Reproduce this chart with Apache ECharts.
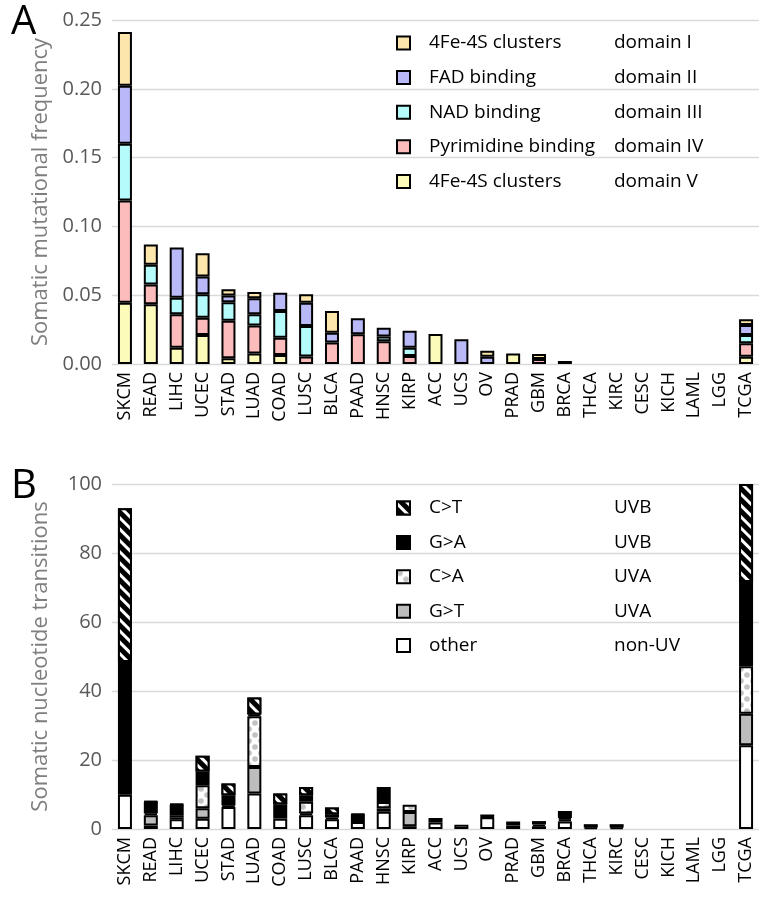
<!DOCTYPE html>
<html>
<head>
<meta charset="utf-8">
<script src="https://cdn.jsdelivr.net/npm/echarts@6/dist/echarts.min.js"></script>
<style>
html,body{margin:0;padding:0;background:#fff;}
#chart{width:768px;height:909px;}
</style>
</head>
<body>
<div id="chart"></div>
<script>
// ---------- data ----------
var categories = ['SKCM','READ','LIHC','UCEC','STAD','LUAD','COAD','LUSC','BLCA','PAAD','HNSC','KIRP','ACC','UCS','OV','PRAD','GBM','BRCA','THCA','KIRC','CESC','KICH','LAML','LGG','TCGA'];

// Panel A: somatic mutational frequency per domain (stack segment sizes)
var domainV   = [0.0446,0.0435,0.0119,0.0211,0.0041,0.0077,0.0065,0,0,0,0,0,0.0218,0,0,0.0077,0,0,0,0,0,0,0,0,0.0053];
var domainIV  = [0.0742,0.0143,0.0242,0.0126,0.0274,0.0202,0.0126,0.0055,0.0157,0.0216,0.0165,0.0058,0,0,0,0,0.0036,0.0022,0,0,0,0,0,0,0.0097];
var domainIII = [0.0412,0.0143,0.0121,0.0170,0.0134,0.0082,0.0194,0.0221,0,0,0.0034,0.0061,0,0,0,0,0,0,0,0,0,0,0,0,0.0061];
var domainII  = [0.0423,0,0.0364,0.0128,0.0048,0.0116,0.0133,0.0170,0.0071,0.0117,0.0065,0.0123,0,0.0180,0.0053,0,0,0,0,0,0,0,0,0,0.0073];
var domainI   = [0.0390,0.0148,0,0.0170,0.0046,0.0046,0,0.0061,0.0157,0,0,0,0,0,0.0044,0,0.0036,0,0,0,0,0,0,0,0.0041];

// Panel B: somatic nucleotide transitions (stack segment sizes)
var other = [9.9,1.0,2.8,3.0,6.4,10.3,3.0,4.0,2.8,2.0,5.0,0.8,1.9,1.2,3.4,1.0,0.8,2.2,0.4,0.4,0,0,0,0,24.3];
var GtoT  = [0,3.0,0.6,3.0,0,7.7,0.8,0.5,0.5,0,1.0,4.1,0,0,0.2,0,0.5,0.5,0,0,0,0,0,0,9.1];
var CtoA  = [0,0.5,0.6,6.7,0.4,14.7,0,3.4,0,0,1.8,2.1,0,0,0,0,0,0.5,0,0,0,0,0,0,13.8];
var GtoA  = [38.5,3.3,3.0,4.0,3.0,0.5,3.4,1.9,1.0,2.1,4.4,0,1.3,0,0.6,1.2,1.0,2.0,1.0,1.0,0,0,0,0,24.4];
var CtoT  = [44.6,0.2,0.2,4.5,3.4,4.9,3.1,2.4,1.9,0.2,0,0,0,0,0,0,0,0,0,0,0,0,0,0,28.4];

var yTicksA = [0, 0.05, 0.10, 0.15, 0.20, 0.25];
var yTicksB = [0, 20, 40, 60, 80, 100];

var legendA = [
  {key:'dI',   label:'4Fe-4S clusters',    group:'domain I'},
  {key:'dII',  label:'FAD binding',        group:'domain II'},
  {key:'dIII', label:'NAD binding',        group:'domain III'},
  {key:'dIV',  label:'Pyrimidine binding', group:'domain IV'},
  {key:'dV',   label:'4Fe-4S clusters',    group:'domain V'}
];
var legendB = [
  {key:'CT', label:'C>T',   group:'UVB'},
  {key:'GA', label:'G>A',   group:'UVB'},
  {key:'CA', label:'C>A',   group:'UVA'},
  {key:'GT', label:'G>T',   group:'UVA'},
  {key:'OT', label:'other', group:'non-UV'}
];

// ---------- chart ----------
var FONT = 'Open Sans';
function clean(arr){ return arr.map(function(v){ return v === 0 ? '-' : v; }); }
var lookup = {};
legendA.concat(legendB).forEach(function(d){ lookup[d.key] = d; });

// dotted fill pattern (C>A)
function makeDots(){
  var c = document.createElement('canvas');
  c.width = 12; c.height = 12;
  var g = c.getContext('2d');
  g.fillStyle = '#ffffff'; g.fillRect(0,0,12,12);
  g.fillStyle = '#c2c2c2';
  [[3,3],[9,9]].forEach(function(p){
    g.beginPath(); g.arc(p[0],p[1],2.8,0,Math.PI*2); g.fill();
  });
  return c;
}
var dotFill = {image:makeDots(), repeat:'repeat'};

var border = {borderColor:'#000', borderWidth:2};
function barA(key, data, color){
  return {name:key, type:'bar', stack:'A', xAxisIndex:0, yAxisIndex:0, barWidth:14,
    data:clean(data), itemStyle:Object.assign({color:color}, border)};
}
function barB(key, data, color, decal){
  var s = Object.assign({color:color}, border);
  if (decal) s.decal = decal;
  return {name:key, type:'bar', stack:'B', xAxisIndex:1, yAxisIndex:1, barWidth:14,
    data:clean(data), itemStyle:s};
}

var stripe = {symbol:'rect', color:'#ffffff', backgroundColor:'#000000',
  dashArrayX:[1,0], dashArrayY:[2.5,5], rotation:Math.PI/4, symbolSize:1};

var legendFormatter = function(name){
  var d = lookup[name];
  return '{s| }{a|' + d.label + '}{b|' + d.group + '}';
};
var legendRich = {
  s:{width:14},
  a:{width:185, fontSize:19, fontFamily:FONT, color:'#000'},
  b:{fontSize:19, fontFamily:FONT, color:'#000'}
};

function xAxis(idx){
  return {type:'category', gridIndex:idx, data:categories,
    axisLine:{show:false}, axisTick:{show:false},
    axisLabel:{rotate:90, fontSize:18, fontFamily:FONT, color:'#000', margin:8, interval:0}};
}
function yAxis(idx, ticks, name, fmt){
  return {type:'value', gridIndex:idx, min:ticks[0], max:ticks[ticks.length-1],
    interval:ticks[1]-ticks[0],
    name:name, nameLocation:'middle', nameGap:60,
    nameTextStyle:{fontSize:22, fontFamily:FONT, color:'#7f7f7f'},
    axisLine:{show:false}, axisTick:{show:false},
    axisLabel:{fontSize:20, fontFamily:FONT, color:'#595959', margin:10, formatter:fmt},
    splitLine:{lineStyle:{color:'#d9d9d9', width:1.3}}};
}

var option = {
  animation:false,
  backgroundColor:'#fff',
  title:[
    {text:'A', left:6, top:-2, textStyle:{fontSize:40, fontWeight:'normal', fontFamily:FONT, color:'#000'}},
    {text:'B', left:6, top:462, textStyle:{fontSize:40, fontWeight:'normal', fontFamily:FONT, color:'#000'}}
  ],
  grid:[
    {left:112, right:9, top:20, height:344},
    {left:112, right:9, top:484, height:345}
  ],
  xAxis:[xAxis(0), xAxis(1)],
  yAxis:[
    yAxis(0, yTicksA, 'Somatic mutational frequency', function(v){ return v.toFixed(2); }),
    yAxis(1, yTicksB, 'Somatic nucleotide transitions', function(v){ return String(v); })
  ],
  legend:[
    {data:legendA.map(function(d){return d.key;}), orient:'vertical', left:391, top:27,
     icon:'rect', itemWidth:13, itemHeight:13, itemGap:12.6, selectedMode:false,
     textStyle:{lineHeight:22, rich:legendRich}, formatter:legendFormatter},
    {data:legendB.map(function(d){return d.key;}), orient:'vertical', left:391, top:492,
     icon:'rect', itemWidth:13, itemHeight:13, itemGap:12.4, selectedMode:false,
     textStyle:{lineHeight:22, rich:legendRich}, formatter:legendFormatter}
  ],
  series:[
    barA('dV',   domainV,   '#fdfbb9'),
    barA('dIV',  domainIV,  '#fdbcbc'),
    barA('dIII', domainIII, '#b6fbfb'),
    barA('dII',  domainII,  '#b9b9f7'),
    barA('dI',   domainI,   '#fde6ab'),
    barB('OT', other, '#ffffff'),
    barB('GT', GtoT,  '#bdbdbd'),
    barB('CA', CtoA,  dotFill),
    barB('GA', GtoA,  '#000000'),
    barB('CT', CtoT,  '#000000', stripe)
  ]
};

var chart = echarts.init(document.getElementById('chart'), null, {renderer:'canvas'});
chart.setOption(option);
</script>
</body>
</html>
